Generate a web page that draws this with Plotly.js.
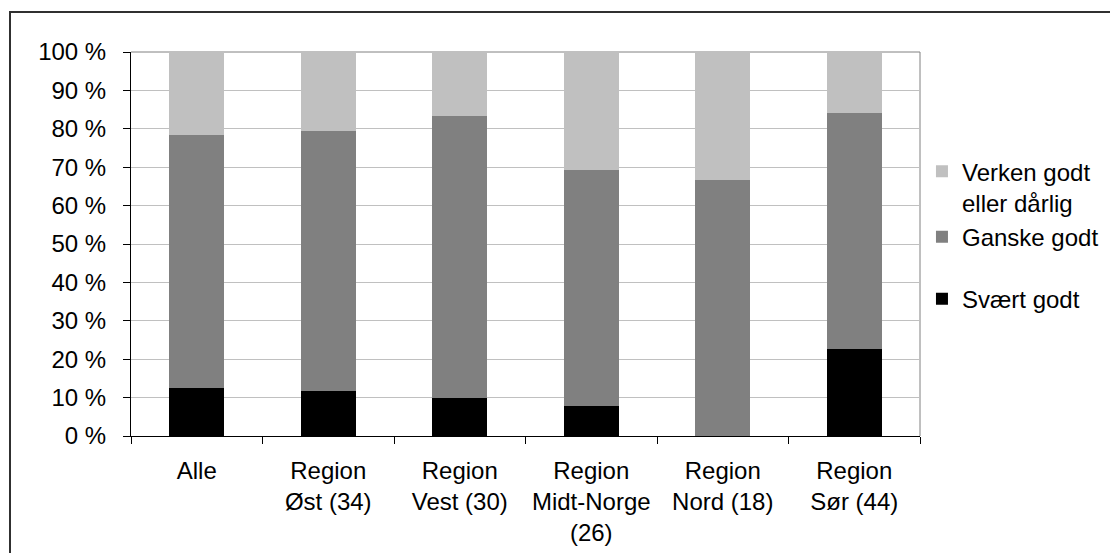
<!DOCTYPE html>
<html>
<head>
<meta charset="utf-8">
<script src="https://cdn.plot.ly/plotly-3.0.1.min.js"></script>
<style>html,body{margin:0;padding:0;background:#fff;}#chart{width:1110px;height:553px;}</style>
</head>
<body>
<div id="chart"></div>
<script>
const categories = ["Alle", "Region<br>Øst (34)", "Region<br>Vest (30)", "Region<br>Midt-Norge<br>(26)", "Region<br>Nord (18)", "Region<br>Sør (44)"];
const svaertGodt = [12.5, 11.8, 10.0, 7.7, 0, 22.7];
const ganskeGodt = [65.8, 67.6, 73.3, 61.5, 66.7, 61.4];
const verkenGodt = [21.7, 20.6, 16.7, 30.8, 33.3, 15.9];
const seriesNames = ["Svært godt", "Ganske godt", "Verken godt<br>eller dårlig"];
const yTickVals = [0, 10, 20, 30, 40, 50, 60, 70, 80, 90, 100];
const yTickText = ["0 %", "10 %", "20 %", "30 %", "40 %", "50 %", "60 %", "70 %", "80 %", "90 %", "100 %"];

const FONT = "Liberation Sans, Arial, sans-serif";
const colors = ["#000000", "#808080", "#c0c0c0"];
const groups = ["b", "a", "a"];
const ranks = [3, 2, 1];
const data = [svaertGodt, ganskeGodt, verkenGodt].map((vals, i) => ({
  type: "bar",
  x: categories,
  y: vals,
  name: seriesNames[i],
  legendgroup: groups[i],
  legendrank: ranks[i],
  marker: {color: colors[i], line: {width: 0}},
  hoverinfo: "y+name"
}));

const layout = {
  width: 1110, height: 553,
  margin: {l: 131, r: 190, t: 52, b: 117, autoexpand: false},
  barmode: "stack",
  bargap: 0.582,
  paper_bgcolor: "#ffffff",
  plot_bgcolor: "#ffffff",
  font: {family: FONT, size: 24, color: "#000"},
  xaxis: {
    type: "category",
    tickson: "boundaries",
    ticks: "outside", ticklen: 7, tickcolor: "#000", tickwidth: 1,
    showline: true, linecolor: "#000", linewidth: 1,
    showgrid: false,
    ticklabelstandoff: 13,
    tickfont: {family: FONT, size: 24, color: "#000"}
  },
  yaxis: {
    range: [0, 100],
    tickvals: yTickVals,
    ticktext: yTickText,
    ticks: "outside", ticklen: 7, tickcolor: "#000", tickwidth: 1,
    showline: true, linecolor: "#000", linewidth: 1,
    showgrid: true, gridcolor: "#c0c0c0", gridwidth: 1,
    zeroline: false,
    ticklabelstandoff: 12,
    tickfont: {family: FONT, size: 24, color: "#000"}
  },
  legend: {
    x: 1.0025, xanchor: "left", y: 0.523, yanchor: "middle",
    traceorder: "grouped",
    tracegroupgap: 28,
    bgcolor: "#ffffff",
    font: {family: FONT, size: 24, color: "#000"},
    valign: "top",
    itemwidth: 30
  },
  shapes: [
    {type: "line", xref: "paper", yref: "paper", x0: 0, x1: 1, y0: 1, y1: 1, line: {color: "#808080", width: 1}, layer: "below"},
    {type: "line", xref: "paper", yref: "paper", x0: 1, x1: 1, y0: 0, y1: 1, line: {color: "#808080", width: 1}, layer: "below"},
    {type: "rect", xref: "paper", yref: "paper",
     xsizemode: "pixel", xanchor: 0, x0: -121, x1: 1200,
     ysizemode: "pixel", yanchor: 1, y0: -700, y1: 40,
     line: {color: "#303030", width: 2}, fillcolor: "rgba(0,0,0,0)", layer: "below"}
  ]
};

Plotly.newPlot("chart", data, layout, {displayModeBar: false, staticPlot: true});
</script>
</body>
</html>
